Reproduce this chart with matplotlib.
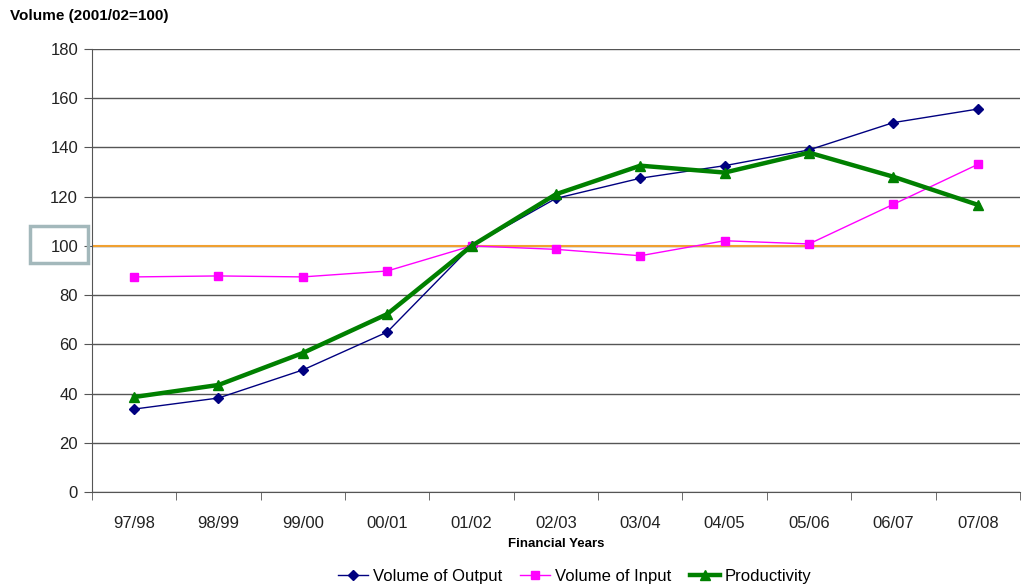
import numpy as np
import matplotlib.pyplot as plt
from matplotlib.patches import Rectangle

plt.rcParams['font.family'] = ['Liberation Sans', 'DejaVu Sans']

years = ['97/98', '98/99', '99/00', '00/01', '01/02', '02/03',
         '03/04', '04/05', '05/06', '06/07', '07/08']
output = [33.7, 38.2, 49.6, 65.0, 100.0, 119.3, 127.5, 132.6, 139.0, 150.1, 155.6]
inputs = [87.4, 87.8, 87.4, 89.8, 100.0, 98.6, 96.0, 102.1, 100.8, 116.9, 133.1]
productivity = [38.6, 43.5, 56.5, 72.3, 100.0, 121.0, 132.6, 129.8, 137.9, 128.1, 116.7]
base = 100

fig = plt.figure(figsize=(10.24, 5.87), dpi=100)
ax = fig.add_axes([0.0898, 0.1618, 0.9062, 0.7547])

x = np.arange(len(years))
ax.set_xlim(-0.5, len(years) - 0.5)
ax.set_ylim(0, 180)
ax.set_yticks(np.arange(0, 181, 20))
ax.yaxis.grid(True, color='#555555', linewidth=1.0)
ax.set_axisbelow(True)

ax.axhline(base, color='#f0a030', linewidth=1.5, zorder=2)

ax.plot(x, output, color='#000080', linewidth=1.0, marker='D', markersize=5,
        label='Volume of Output', zorder=3)
ax.plot(x, inputs, color='#ff00ff', linewidth=1.0, marker='s', markersize=6,
        label='Volume of Input', zorder=3)
ax.plot(x, productivity, color='#008000', linewidth=3.2, marker='^', markersize=7,
        label='Productivity', zorder=4)

ax.set_xticks(x)
ax.set_xticklabels(years)
ax.set_xticks(np.arange(-0.5, len(years), 1), minor=True)
ax.tick_params(axis='x', which='major', length=0, pad=17, labelsize=12, colors='#222222')
ax.tick_params(axis='x', which='minor', length=6, color='#555555')
ax.tick_params(axis='y', length=6, color='#555555', labelsize=12, labelcolor='#222222',
               pad=4)

for side in ['top', 'right']:
    ax.spines[side].set_visible(False)
ax.spines['left'].set_color('#555555')
ax.spines['bottom'].set_color('#555555')

# box around the base-year tick label
ax.add_patch(Rectangle((-0.0668, 93.0), 0.0625, 15.1, transform=ax.get_yaxis_transform(),
                       fill=False, edgecolor='#a3b8bb', linewidth=2.5, clip_on=False))

ax.set_xlabel('Financial Years', fontsize=9.5, fontweight='bold', labelpad=5)
fig.text(0.01, 0.972, 'Volume (2001/02=100)', fontsize=11, fontweight='bold', va='center')

ax.legend(loc='center', bbox_to_anchor=(0.52, -0.191), ncol=3, frameon=False,
          fontsize=12, handlelength=1.8, columnspacing=1.1, handletextpad=0.3,
          borderpad=0.1)

fig.savefig('out.png', dpi=100)
